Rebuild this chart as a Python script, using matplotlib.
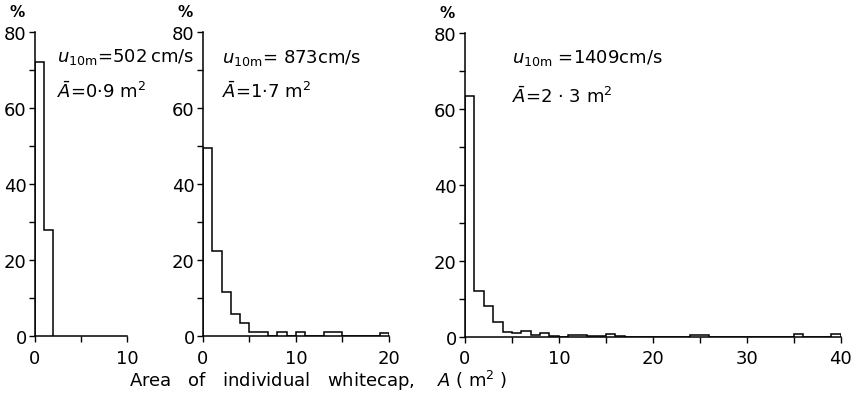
import numpy as np
import matplotlib
matplotlib.use("Agg")
import matplotlib.pyplot as plt
from matplotlib.ticker import MultipleLocator

# Histograms of individual whitecap area (1 m^2 bins), percent of whitecaps
pct_502 = [72.0, 28.0]
pct_873 = [49.5, 22.5, 11.5, 5.8, 3.5, 1.1, 1.1, 0.0, 1.0, 0.0,
           1.0, 0.0, 0.0, 1.0, 1.0, 0.0, 0.0, 0.0, 0.0, 0.8]
pct_1409 = [63.5, 12.2, 8.2, 4.0, 1.4, 1.0, 1.5, 0.5, 1.0, 0.3,
            0.0, 0.4, 0.6, 0.35, 0.3, 0.9, 0.35, 0.0, 0.0, 0.0,
            0.0, 0.0, 0.0, 0.0, 0.5, 0.5, 0.0, 0.0, 0.0, 0.0,
            0.0, 0.0, 0.0, 0.0, 0.0, 0.7, 0.0, 0.0, 0.0, 0.7]

wind_speeds = ["502", "873", "1409"]
mean_areas = ["0·9", "1·7", "2·3"]
x_limits = [10, 20, 40]
x_ticklabels = [[0, 10], [0, 10, 20], [0, 10, 20, 30, 40]]
y_ticklabels = [0, 20, 40, 60, 80]

plt.rcParams["font.family"] = "DejaVu Sans"
plt.rcParams["font.size"] = 13

W, H = 853, 406
fig = plt.figure(figsize=(W / 100, H / 100), dpi=100)

# axes boxes in pixels: (left, right, bottom_y, top_y)
boxes = [(35, 127, 337, 33), (203, 389, 337, 33), (465, 840.5, 338, 34)]
series = [pct_502, pct_873, pct_1409]
u_text = [r"$u_{\mathregular{10m}}$=" + wind_speeds[0] + "\u2009cm/s",
          r"$u_{\mathregular{10m}}$= " + wind_speeds[1] + "cm/s",
          r"$u_{\mathregular{10m}}$ =" + wind_speeds[2] + "cm/s"]
a_text = [r"$\bar{A}$=" + mean_areas[0] + r" m$^2$",
          r"$\bar{A}$=" + mean_areas[1] + r" m$^2$",
          r"$\bar{A}$=" + mean_areas[2].replace("·", " · ") + r" m$^2$"]
text_px = [(57, 62, 98), (222, 63, 98), (512, 63, 103)]

for i, (l, r, b, t) in enumerate(boxes):
    ax = fig.add_axes([l / W, 1 - b / H, (r - l) / W, (b - t) / H])
    vals = series[i]
    edges = np.arange(len(vals) + 1)
    ax.stairs(vals, edges, baseline=0, color="black", lw=1.1)
    ax.set_xlim(0, x_limits[i])
    ax.set_ylim(0, 80)
    for s in ("top", "right"):
        ax.spines[s].set_visible(False)
    for s in ("left", "bottom"):
        ax.spines[s].set_linewidth(1.1)
    ax.set_xticks(x_ticklabels[i])
    ax.xaxis.set_minor_locator(MultipleLocator(5))
    ax.set_yticks(y_ticklabels)
    ax.yaxis.set_minor_locator(MultipleLocator(10))
    ax.tick_params(which="both", direction="out", width=1.0, length=4)
    ax.tick_params(axis="x", pad=5)
    ax.tick_params(axis="y", pad=2)
    ax.annotate("%", xy=(0, 1), xycoords="axes fraction",
                xytext=(-13, 15), textcoords="offset points",
                ha="center", va="center", fontsize=11, fontweight="bold")
    tx, ty1, ty2 = text_px[i]
    fig.text(tx / W, 1 - ty1 / H, u_text[i], ha="left", va="baseline")
    fig.text(tx / W, 1 - ty2 / H, a_text[i], ha="left", va="baseline")

fig.text(318 / W, 1 - 387 / H,
         r"Area   of   individual   whitecap,    $A$ ( m$^2$ )",
         ha="center", va="baseline")

fig.savefig("out.png", dpi=100)
